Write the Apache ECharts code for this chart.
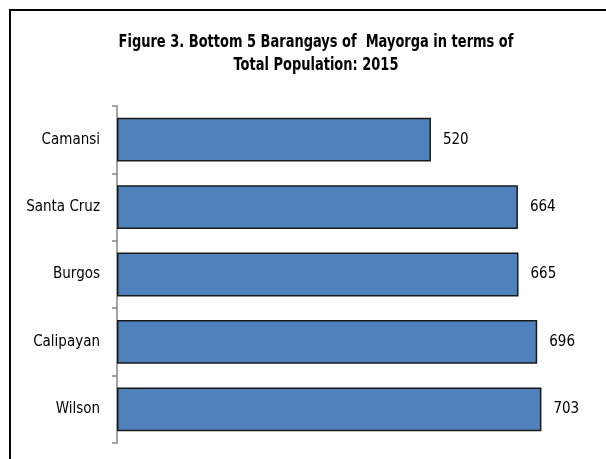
<!DOCTYPE html>
<html>
<head>
<meta charset="utf-8">
<script src="https://cdn.jsdelivr.net/npm/echarts@6/dist/echarts.min.js"></script>
<style>
  html, body { margin: 0; padding: 0; background: #fff; }
  #chart { width: 606px; height: 459px; }
</style>
</head>
<body>
<div id="chart"></div>
<script>
// Bottom 5 barangays of Mayorga, total population 2015
var barangays = ['Camansi', 'Santa Cruz', 'Burgos', 'Calipayan', 'Wilson'];
var population = [520, 664, 665, 696, 703];
var titleLines = ['Figure 3. Bottom 5 Barangays of  Mayorga in terms of', 'Total Population: 2015'];

var fontName = '"Liberation Sans Narrow", "Arial Narrow", "DejaVu Sans Condensed", sans-serif';

var myChart = echarts.init(document.getElementById('chart'));
var option = {
    backgroundColor: '#fff',
    animation: false,
    graphic: [
        {
            // chart frame (runs off the right and bottom edge like the original)
            type: 'rect',
            shape: { x: 10, y: 10, width: 700, height: 600 },
            style: { fill: 'none', stroke: '#000', lineWidth: 2 }
        },
        {
            // title, squeezed a bit to get the narrow look of the original
            type: 'text',
            x: 316,
            y: 31,
            scaleX: 0.85,
            style: {
                text: titleLines.join('\n'),
                textAlign: 'center',
                textVerticalAlign: 'top',
                font: 'bold 17px ' + fontName,
                lineHeight: 23,
                fill: '#000'
            }
        }
    ],
    grid: {
        left: 117,
        right: 6,
        top: 106,
        bottom: 16,
        containLabel: false
    },
    xAxis: {
        type: 'value',
        min: 0,
        max: 800,
        show: false
    },
    yAxis: {
        type: 'category',
        inverse: true,
        data: barangays,
        axisLine: { show: true, lineStyle: { color: '#868686', width: 1.5 } },
        axisTick: { show: true, length: 5, lineStyle: { color: '#868686', width: 1.5 } },
        axisLabel: {
            margin: 17,
            fontSize: 15,
            fontFamily: fontName,
            color: '#000',
            padding: [4, 0, 0, 0]
        }
    },
    series: [{
        type: 'bar',
        data: population,
        barCategoryGap: '35%',
        itemStyle: {
            color: '#4F81BD',
            borderColor: '#1a1a1a',
            borderWidth: 1.5
        },
        label: {
            show: true,
            position: 'right',
            distance: 12,
            fontSize: 15,
            fontFamily: fontName,
            color: '#000',
            padding: [4, 0, 0, 0]
        }
    }]
};
myChart.setOption(option);
window.addEventListener('resize', function () {
    myChart.resize();
});
</script>
</body>
</html>
